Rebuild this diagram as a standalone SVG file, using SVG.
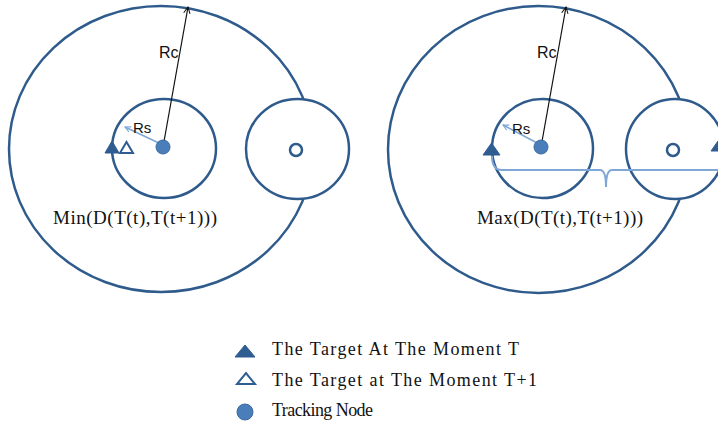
<svg xmlns="http://www.w3.org/2000/svg" width="718" height="423" viewBox="0 0 718 423">
<style>
.ring{fill:#fff;stroke:#2f5b8c;stroke-width:2.5}
.node{fill:#4a7ebb;stroke:#3a6a9f;stroke-width:1}
.tri{fill:#2f5d92;stroke:#2f5d92;stroke-width:1}
.otri{fill:#fff;stroke:#2f5d92;stroke-width:2}
.rc{stroke:#111;stroke-width:1.2;fill:none}
.rs{stroke:#7ea6d6;stroke-width:1.5;fill:none}
.brace{stroke:#7ea6d6;stroke-width:2;fill:none}
.lab{font-family:"Liberation Sans","DejaVu Sans",sans-serif;font-size:16px;fill:#111}
.ser{font-family:"Liberation Serif","Times New Roman",serif;fill:#111}
</style>
<defs>
<marker id="ah" viewBox="0 0 10 10" refX="9" refY="5" markerWidth="8" markerHeight="8" orient="auto" markerUnits="userSpaceOnUse">
<path d="M1,1 L9,5 L1,9" fill="none" stroke="#111" stroke-width="1.3"/>
</marker>
<marker id="ahs" viewBox="0 0 10 10" refX="9" refY="5" markerWidth="7" markerHeight="7" orient="auto" markerUnits="userSpaceOnUse">
<path d="M1,1 L9,5 L1,9" fill="none" stroke="#7ea6d6" stroke-width="1.5"/>
</marker>
</defs>

<!-- Left panel -->
<g id="left-panel">
<g id="left-range"><ellipse class="ring" cx="161" cy="149" rx="152" ry="143"/></g>
<g id="left-neighbor"><ellipse class="ring" cx="297.5" cy="149" rx="51.5" ry="50"/><circle class="ring" cx="296" cy="150" r="6"/></g>
<g id="left-sensing"><ellipse class="ring" cx="164" cy="148.5" rx="52" ry="49.5"/></g>
<g id="left-arrows">
<line class="rc" x1="163" y1="147" x2="188" y2="7" marker-end="url(#ah)"/>
<line class="rs" x1="163" y1="145" x2="125" y2="127" marker-end="url(#ahs)"/>
</g>
<g id="left-node"><circle class="node" cx="163" cy="147" r="7"/></g>
<g id="left-targets">
<polygon class="tri" points="105,153 119,153 112,141"/>
<polygon class="otri" points="120,153 133,153 126.5,142"/>
</g>
<text class="lab" x="159" y="58">Rc</text>
<text class="lab" x="133" y="133" style="font-size:15px">Rs</text>
<text class="ser" x="53" y="224" font-size="19" textLength="164" lengthAdjust="spacing">Min(D(T(t),T(t+1)))</text>
</g>

<!-- Right panel -->
<g id="right-panel">
<g id="right-range"><ellipse class="ring" cx="538.5" cy="149.5" rx="150.5" ry="143.5"/></g>
<g id="right-neighbor"><ellipse class="ring" cx="675" cy="149" rx="49" ry="50"/><circle class="ring" cx="673" cy="150" r="6"/></g>
<g id="right-sensing"><ellipse class="ring" cx="542.5" cy="148.5" rx="50.5" ry="49.5"/></g>
<g id="connectors">
<line class="rc" x1="541" y1="147" x2="566" y2="7" marker-end="url(#ah)"/>
<line class="rs" x1="541" y1="145" x2="503" y2="125" marker-end="url(#ahs)"/>
<path class="brace" d="M492,156 Q492,170 502,170 L600,170 Q606,170 606,187 Q606,170 612,170 L720,170"/>
</g>
<g id="right-node"><circle class="node" cx="541" cy="147" r="7"/></g>
<g id="right-targets">
<polygon class="tri" points="483,155 500,155 491.5,143"/>
<polygon class="tri" points="711,151 725,151 718,141"/>
</g>
<text class="lab" x="537" y="58">Rc</text>
<text class="lab" x="512" y="134" style="font-size:15px">Rs</text>
<text class="ser" x="477" y="224" font-size="19" textLength="166" lengthAdjust="spacing">Max(D(T(t),T(t+1)))</text>
</g>

<!-- Legend -->
<g id="legend">
<g id="legend-target-t"><polygon class="tri" points="235,357 255,357 245,345"/><text class="ser" x="272" y="355" font-size="18" textLength="247" lengthAdjust="spacing">The Target At The Moment T</text></g>
<g id="legend-target-t1"><polygon class="otri" points="237,384 255,384 246,373"/><text class="ser" x="272" y="386" font-size="18" textLength="265" lengthAdjust="spacing">The Target at The Moment T+1</text></g>
<g id="legend-node"><circle class="node" cx="245" cy="412" r="8"/><text class="ser" x="272" y="416" font-size="18" textLength="101" lengthAdjust="spacing">Tracking Node</text></g>
</g>
</svg>
